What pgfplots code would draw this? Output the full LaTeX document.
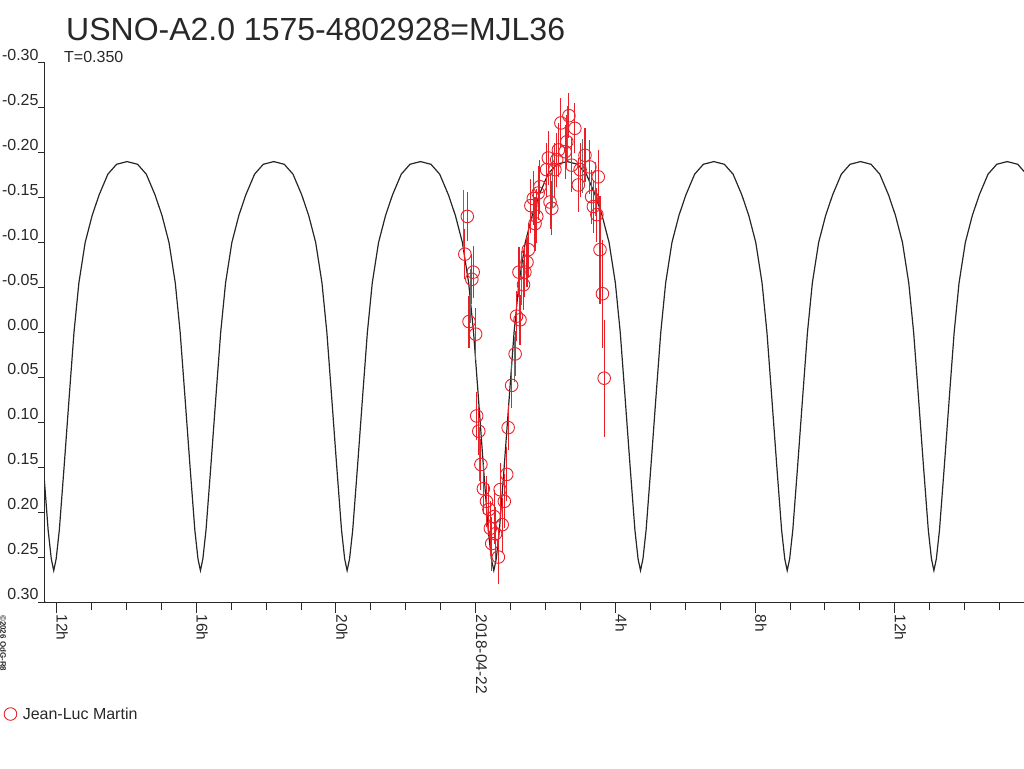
\documentclass[border=0pt]{standalone}
\usepackage{fontspec}
\setmainfont{Liberation Sans}
\usepackage{pgfplots}
\usepackage{pgfplotstable}
\pgfplotsset{compat=1.18}
\definecolor{jlm}{RGB}{232,32,40}
\definecolor{txt}{RGB}{40,40,40}
\definecolor{gbar}{RGB}{110,110,110}

\pgfplotstableread{
x y e
-0.24 -0.129 0.027
-0.31 -0.087 0.028
-0.07 -0.067 0.029
-0.11 -0.059 0.028
-0.19 -0.012 0.029
0.00 0.002 0.029
0.03 0.093 0.027
0.09 0.110 0.027
0.15 0.147 0.028
0.22 0.174 0.028
0.31 0.188 0.028
0.38 0.197 0.028
0.53 0.205 0.030
0.57 0.224 0.030
0.46 0.235 0.030
0.65 0.250 0.030
0.42 0.218 0.030
0.76 0.214 0.030
0.70 0.175 0.030
0.82 0.188 0.030
0.89 0.158 0.030
0.93 0.106 0.025
1.03 0.059 0.025
1.13 0.024 0.025
1.17 -0.018 0.028
1.27 -0.014 0.028
1.24 -0.067 0.028
1.37 -0.053 0.028
1.41 -0.067 0.028
1.47 -0.078 0.028
1.51 -0.092 0.030
1.58 -0.141 0.030
1.70 -0.121 0.030
1.75 -0.129 0.030
1.65 -0.149 0.030
1.79 -0.155 0.030
1.84 -0.162 0.030
2.03 -0.181 0.030
2.08 -0.194 0.030
2.13 -0.145 0.030
2.18 -0.138 0.030
2.27 -0.181 0.030
2.32 -0.192 0.030
2.37 -0.203 0.030
2.44 -0.233 0.028
2.56 -0.201 0.030
2.61 -0.212 0.030
2.67 -0.241 0.025
2.75 -0.186 0.030
2.84 -0.227 0.028
2.94 -0.164 0.030
2.99 -0.181 0.030
3.13 -0.197 0.030
3.27 -0.184 0.030
3.32 -0.151 0.030
3.37 -0.140 0.030
3.47 -0.131 0.030
3.51 -0.173 0.030
3.56 -0.092 0.060
3.63 -0.043 0.060
3.68 0.051 0.065
}\jlmdata

\pgfplotstableread{
x y e
-0.36 -0.125 0.033
-0.15 -0.040 0.030
0.12 0.135 0.030
1.10 0.030 0.025
1.30 -0.060 0.030
2.20 -0.170 0.030
2.62 -0.222 0.030
3.05 -0.185 0.030
3.42 -0.160 0.030
}\graydata

\begin{document}
\begin{tikzpicture}[x=1pt,y=1pt]
\useasboundingbox (0,0) rectangle (1024,768);
\node[anchor=base west, inner sep=0pt, text=txt, font=\fontsize{32}{36}\selectfont] at (66,727) {USNO-A2.0 1575-4802928=MJL36};
\node[anchor=base west, inner sep=0pt, text=txt, font=\fontsize{16}{18}\selectfont] at (64,705) {T=0.350};
\node[rotate=-90, anchor=south west, inner sep=0pt, text=txt, font=\fontsize{8}{9}\selectfont\bfseries] at (0,153) {\textcopyright2026 OdG-R8};
\begin{axis}[
  at={(45pt,166pt)}, anchor=south west,
  scale only axis, width=979pt, height=539.3pt,
  xmin=-12.33, xmax=15.70, ymin=-0.30, ymax=0.30, y dir=reverse,
  axis lines=left, axis line style={-, line width=1pt, txt},
  tick align=outside,
  xtick={-12,-8,-4,0,4,8,12},
  xticklabels={12h,16h,20h,2018-04-22,4h,8h,12h},
  minor xtick={-11,-10,-9,-7,-6,-5,-3,-2,-1,1,2,3,5,6,7,9,10,11,13,14,15},
  ytick={-0.30,-0.25,-0.20,-0.15,-0.10,-0.05,0,0.05,0.10,0.15,0.20,0.25,0.30},
  yticklabels={-0.30,-0.25,-0.20,-0.15,-0.10,-0.05,0.00,0.05,0.10,0.15,0.20,0.25,0.30},
  xtick style={line width=1pt, txt, /pgfplots/major tick length=11pt, /pgfplots/minor tick length=8pt},
  ytick style={line width=1pt, txt, /pgfplots/major tick length=7pt},
  xticklabel shift=8pt,
  yticklabel shift=2pt,
  xticklabel style={rotate=-90, anchor=south west, inner sep=0pt, text=txt, font=\fontsize{15.5}{17}\selectfont},
  yticklabel style={anchor=south east, inner sep=0pt, yshift=2pt, text=txt, font=\fontsize{16}{18}\selectfont},
  legend style={at={(axis description cs:-0.0419,-0.2077)}, anchor=west, draw=none, fill=none, inner sep=0pt,
    nodes={inner sep=0pt, text=txt, font=\fontsize{16}{18}\selectfont},
    /tikz/every odd column/.append style={column sep=6pt}},
  legend cell align=left,
  clip=true,
]
\addplot[black!85, line width=1.2pt, forget plot] coordinates {
(-12.53,0.068) (-12.38,0.148) (-12.24,0.220) (-12.15,0.252)
(-12.08,0.265) (-12.01,0.252) (-11.92,0.220) (-11.78,0.148) (-11.63,0.068) (-11.50,0.000)
(-11.36,-0.055) (-11.18,-0.100) (-10.98,-0.130) (-10.78,-0.153) (-10.53,-0.176) (-10.28,-0.187)
(-9.98,-0.190) (-9.68,-0.187) (-9.43,-0.176) (-9.18,-0.153) (-8.98,-0.130) (-8.78,-0.100)
(-8.60,-0.055) (-8.46,0.000) (-8.33,0.068) (-8.18,0.148) (-8.04,0.220) (-7.95,0.252)
(-7.88,0.265) (-7.81,0.252) (-7.72,0.220) (-7.58,0.148) (-7.43,0.068) (-7.30,0.000)
(-7.16,-0.055) (-6.98,-0.100) (-6.78,-0.130) (-6.58,-0.153) (-6.33,-0.176) (-6.08,-0.187)
(-5.78,-0.190) (-5.48,-0.187) (-5.23,-0.176) (-4.98,-0.153) (-4.78,-0.130) (-4.58,-0.100)
(-4.40,-0.055) (-4.26,0.000) (-4.13,0.068) (-3.98,0.148) (-3.84,0.220) (-3.75,0.252)
(-3.68,0.265) (-3.61,0.252) (-3.52,0.220) (-3.38,0.148) (-3.23,0.068) (-3.10,0.000)
(-2.96,-0.055) (-2.78,-0.100) (-2.58,-0.130) (-2.38,-0.153) (-2.13,-0.176) (-1.88,-0.187)
(-1.58,-0.190) (-1.28,-0.187) (-1.03,-0.176) (-0.78,-0.153) (-0.58,-0.130) (-0.38,-0.100)
(-0.20,-0.055) (-0.06,0.000) (0.07,0.068) (0.22,0.148) (0.36,0.220) (0.45,0.252)
(0.52,0.265) (0.59,0.252) (0.68,0.220) (0.82,0.148) (0.97,0.068) (1.10,0.000)
(1.24,-0.055) (1.42,-0.100) (1.62,-0.130) (1.82,-0.153) (2.07,-0.176) (2.32,-0.187)
(2.62,-0.190) (2.92,-0.187) (3.17,-0.176) (3.42,-0.153) (3.62,-0.130) (3.82,-0.100)
(4.00,-0.055) (4.14,0.000) (4.27,0.068) (4.42,0.148) (4.56,0.220) (4.65,0.252)
(4.72,0.265) (4.79,0.252) (4.88,0.220) (5.02,0.148) (5.17,0.068) (5.30,0.000)
(5.44,-0.055) (5.62,-0.100) (5.82,-0.130) (6.02,-0.153) (6.27,-0.176) (6.52,-0.187)
(6.82,-0.190) (7.12,-0.187) (7.37,-0.176) (7.62,-0.153) (7.82,-0.130) (8.02,-0.100)
(8.20,-0.055) (8.34,0.000) (8.47,0.068) (8.62,0.148) (8.76,0.220) (8.85,0.252)
(8.92,0.265) (8.99,0.252) (9.08,0.220) (9.22,0.148) (9.37,0.068) (9.50,0.000)
(9.64,-0.055) (9.82,-0.100) (10.02,-0.130) (10.22,-0.153) (10.47,-0.176) (10.72,-0.187)
(11.02,-0.190) (11.32,-0.187) (11.57,-0.176) (11.82,-0.153) (12.02,-0.130) (12.22,-0.100)
(12.40,-0.055) (12.54,0.000) (12.67,0.068) (12.82,0.148) (12.96,0.220) (13.05,0.252)
(13.12,0.265) (13.19,0.252) (13.28,0.220) (13.42,0.148) (13.57,0.068) (13.70,0.000)
(13.84,-0.055) (14.02,-0.100) (14.22,-0.130) (14.42,-0.153) (14.67,-0.176) (14.92,-0.187)
(15.22,-0.190) (15.52,-0.187) (15.77,-0.176) (16.02,-0.153)
};
\addplot[draw=none, forget plot, mark=none,
  error bars/.cd, y dir=both, y explicit, error mark=none,
  error bar style={gbar, line width=1pt}]
  table[x=x, y=y, y error=e] {\graydata};
\addplot[only marks, mark=o, mark size=6.3pt, mark options={jlm, line width=0.9pt},
  error bars/.cd, y dir=both, y explicit, error mark=none,
  error bar style={jlm, line width=1.1pt}]
  table[x=x, y=y, y error=e] {\jlmdata};
\addlegendentry{Jean-Luc Martin}
\draw[txt, line width=1pt] (rel axis cs:0,0) -- ++(-9pt,0);
\end{axis}
\end{tikzpicture}
\end{document}
